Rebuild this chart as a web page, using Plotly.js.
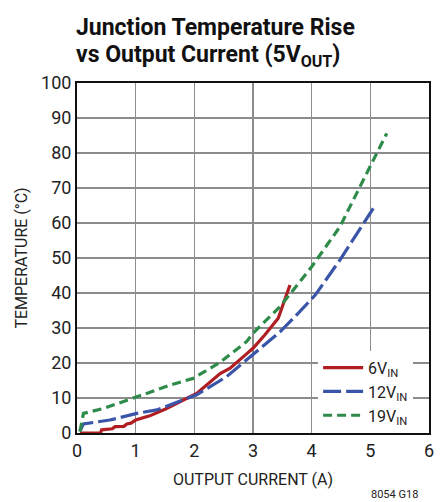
<!DOCTYPE html>
<html><head><meta charset="utf-8">
<script src="https://cdn.plot.ly/plotly-3.0.1.min.js"></script>
<style>html,body{margin:0;padding:0;background:#fff;}#chart{width:446px;height:502px;}</style>
</head><body><div id="chart"></div>
<script>
const x6 = [0.05,0.40,0.42,0.60,0.65,0.80,0.85,0.92,1.00,1.10,1.24,1.50,1.81,2.04,2.44,2.61,2.89,3.00,3.20,3.43,3.63];
const y6 = [0.0,0.0,0.9,1.2,1.8,1.9,2.6,2.8,3.7,4.2,4.9,6.8,9.4,11.3,17.0,18.5,22.6,24.2,28.0,32.8,42.3];
const x12 = [0.05,0.11,0.56,1.02,1.36,1.81,2.04,2.55,3.00,3.46,3.69,4.06,4.48,4.82,5.05];
const y12 = [0.5,2.6,3.7,5.6,6.6,9.4,10.9,16.1,22.3,28.9,32.8,39.4,49.4,58.0,64.2];
const x19 = [0.05,0.11,0.45,1.02,1.59,1.98,2.44,2.89,3.00,3.46,4.00,4.48,4.99,5.28];
const y19 = [0.4,5.6,7.0,10.4,13.7,15.6,20.2,26.1,28.5,36.1,47.5,58.9,76.0,85.6];
const names = ['6V<sub>IN</sub>','12V<sub>IN</sub>','19V<sub>IN</sub>'];
const colors = ['#b01e23','#3a55a8','#2e8b4a'];
const dashes = ['solid','18px,5px','9px,5px'];
const xTicks = [0,1,2,3,4,5,6];
const yTicks = [0,10,20,30,40,50,60,70,80,90,100];
const titleLines = ['<b>Junction Temperature Rise</b>','<b>vs Output Current (5V<sub>OUT</sub>)</b>'];

const F = 'Roboto, "Liberation Sans", sans-serif';
const series = [[x6,y6],[x12,y12],[x19,y19]];
const data = series.map((s,i)=>({
  x:s[0], y:s[1], name:names[i], mode:'lines', type:'scatter',
  line:{color:colors[i], width:3.2, dash:dashes[i]}
}));
const layout = {
  width:446, height:502,
  margin:{l:77, r:17, t:83, b:69},
  paper_bgcolor:'#fff', plot_bgcolor:'#fff',
  xaxis:{range:[0,6], tickvals:xTicks, ticktext:xTicks.map(String), showgrid:true,
    gridcolor:'#8c8c8c', gridwidth:1.5, showline:true, mirror:true, linecolor:'#111', linewidth:2,
    zeroline:false, ticks:'', tickfont:{family:F, size:18, color:'#222'},
    title:{text:'OUTPUT CURRENT (A)', font:{family:F, size:16, color:'#222'}, standoff:14}},
  yaxis:{range:[0,100], tickvals:yTicks, ticktext:yTicks.map(String), showgrid:true,
    gridcolor:'#8c8c8c', gridwidth:1.5, showline:true, mirror:true, linecolor:'#111', linewidth:2,
    zeroline:false, ticks:'', tickfont:{family:F, size:18, color:'#222'},
    title:{text:'TEMPERATURE (°C)', font:{family:F, size:16, color:'#222'}, standoff:9}},
  legend:{x:0.685, y:0.235, xanchor:'left', yanchor:'top', bgcolor:'#fff',
    font:{family:F, size:16, color:'#222'}, tracegroupgap:0, itemwidth:40},
  showlegend:true,
  annotations:[
    {text:titleLines[0], xref:'paper', yref:'paper', x:-0.008, y:1.16, xanchor:'left', yanchor:'middle',
     showarrow:false, font:{family:F, size:23, color:'#111'}},
    {text:titleLines[1], xref:'paper', yref:'paper', x:-0.008, y:1.078, xanchor:'left', yanchor:'middle',
     showarrow:false, font:{family:F, size:23, color:'#111'}},
    {text:'8054 G18', xref:'paper', yref:'paper', x:0.975, y:-0.177,
    xanchor:'right', yanchor:'middle', showarrow:false, font:{family:F, size:11, color:'#222'}}]
};
Plotly.newPlot('chart', data, layout, {displayModeBar:false, staticPlot:true});
</script></body></html>
